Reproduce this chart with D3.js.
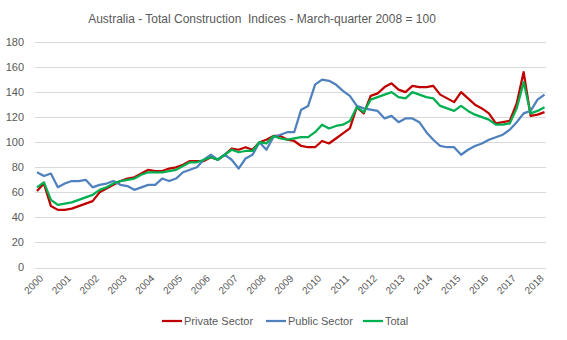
<!DOCTYPE html>
<html><head><meta charset="utf-8">
<script src="https://cdn.jsdelivr.net/npm/d3@7"></script>
<style>
body{margin:0;background:#fff;}
svg{display:block;font-family:"Liberation Sans",Arial,sans-serif;}
</style></head>
<body><svg id="c" width="567" height="340"></svg>
<script>
const years = d3.range(2000, 2019).map(String);
const quarters = [];
years.forEach(y => ["Q1","Q2","Q3","Q4"].forEach(q => quarters.push(y + q)));
const categories = quarters.slice(0, 74); // 2000Q1 .. 2018Q2

const privateSector = [61,67,49,46,46,47,49,51,53,60,63,66,69,71,72,75,78,77,77,79,
  80,82,85,85,85,88,86,90,95,94,96,94,100,102,105,105,102,101,97,96,
  96,101,99,103,107,111,128,123,137,139,144,147,142,140,145,144,144,145,138,135,
  132,140,135,130,127,123,115,116,117,131,156,121,122,124];
const publicSector = [76,73,75,64,67,69,69,70,64,66,67,69,66,65,62,64,66,66,71,69,
  71,76,78,80,86,90,86,90,86,79,87,90,100,94,104,106,108,108,126,129,
  146,150,149,146,141,137,129,127,126,125,119,121,116,119,119,116,108,102,97,96,
  96,90,94,97,99,102,104,106,110,116,123,125,134,138];
const total = [64,68,54,50,51,52,54,56,58,62,64,67,69,70,71,74,76,76,76,77,
  78,81,84,84,86,88,86,90,94,92,93,93,100,99,105,103,102,103,104,104,
  108,114,111,113,114,117,128,124,134,136,138,140,136,135,140,138,136,135,129,127,
  125,129,125,122,120,118,114,114,115,127,148,123,125,128];
const yTicks = [0,20,40,60,80,100,120,140,160,180];
const seriesNames = ["Private Sector","Public Sector","Total"];
const seriesColors = ["#C00000","#4F81BD","#00B050"];
const seriesData = [privateSector, publicSector, total];

const svg = d3.select("#c");
const x = d3.scalePoint().domain(categories).range([37, 544.5]);
const y = d3.scaleLinear().domain([0,180]).range([267.5, 42]);
const gridL = 35, gridR = 546;

// title
svg.append("text").attr("x", 262).attr("y", 23).attr("text-anchor","middle")
  .attr("fill","#595959").style("font-size","12px").style("white-space","pre")
  .text("Australia - Total Construction  Indices - March-quarter 2008 = 100");

// gridlines
svg.append("g").selectAll("line").data(yTicks).join("line")
  .attr("x1", gridL).attr("x2", gridR)
  .attr("y1", d => Math.round(y(d)) + 0.5).attr("y2", d => Math.round(y(d)) + 0.5)
  .attr("stroke","#D9D9D9").attr("stroke-width",1);

// y labels
svg.append("g").selectAll("text").data(yTicks).join("text")
  .attr("x", 24).attr("y", d => y(d)).attr("dy","0.35em")
  .attr("text-anchor","end").attr("fill","#595959").style("font-size","11px")
  .text(d => d);

// x labels
svg.append("g").selectAll("text").data(years).join("text")
  .attr("transform", d => `translate(${x(d + "Q1") + 2},${274}) rotate(-45)`)
  .attr("text-anchor","end").attr("dy","0.7em").attr("fill","#595959").style("font-size","10px")
  .text(d => d);

// lines
const line = d3.line().x((d,i) => x(categories[i])).y(d => y(d));
svg.append("g").selectAll("path").data(seriesData).join("path")
  .attr("d", d => line(d)).attr("fill","none")
  .attr("stroke", (d,i) => seriesColors[i]).attr("stroke-width",2.25)
  .attr("stroke-linejoin","round");

// legend
const legendX = [162, 266, 363];
const lg = svg.append("g").selectAll("g").data(seriesNames).join("g")
  .attr("transform", (d,i) => `translate(${legendX[i]},321)`);
lg.append("line").attr("x1",0).attr("x2",20).attr("y1",0).attr("y2",0)
  .attr("stroke",(d,i)=>seriesColors[i]).attr("stroke-width",2.25);
lg.append("text").attr("x",22).attr("y",0).attr("dy","0.35em")
  .attr("fill","#595959").style("font-size","11px").text(d=>d);
</script></body></html>
